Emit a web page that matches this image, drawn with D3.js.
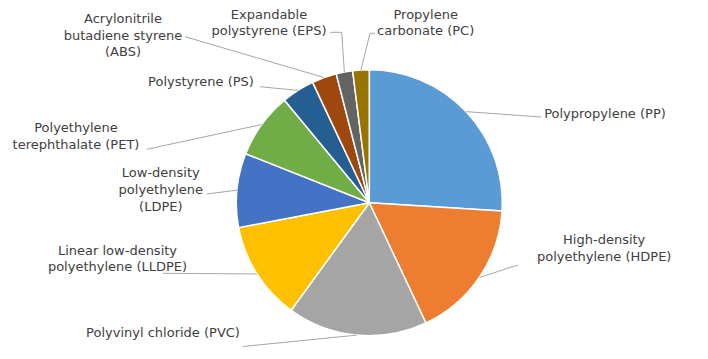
<!DOCTYPE html>
<html>
<head>
<meta charset="utf-8">
<script src="https://cdn.jsdelivr.net/npm/d3@7/dist/d3.min.js"></script>
<style>
html,body{margin:0;padding:0;background:#fff;}
svg{display:block;}
</style>
</head>
<body>
<svg id="chart" width="708" height="359"></svg>
<script>
// ---- data ----
const categories = [
  "Polypropylene (PP)",
  "High-density polyethylene (HDPE)",
  "Polyvinyl chloride (PVC)",
  "Linear low-density polyethylene (LLDPE)",
  "Low-density polyethylene (LDPE)",
  "Polyethylene terephthalate (PET)",
  "Polystyrene (PS)",
  "Acrylonitrile butadiene styrene (ABS)",
  "Expandable polystyrene (EPS)",
  "Propylene carbonate (PC)"
];
const values = [26, 17, 17, 12, 9, 8, 4, 3, 2, 2];
const labelLines = [
  ["Polypropylene (PP)"],
  ["High-density", "polyethylene (HDPE)"],
  ["Polyvinyl chloride (PVC)"],
  ["Linear low-density", "polyethylene (LLDPE)"],
  ["Low-density", "polyethylene", "(LDPE)"],
  ["Polyethylene", "terephthalate (PET)"],
  ["Polystyrene (PS)"],
  ["Acrylonitrile", "butadiene styrene", "(ABS)"],
  ["Expandable", "polystyrene (EPS)"],
  ["Propylene", "carbonate (PC)"]
];

// ---- styles / layout ----
const colors = ["#5B9BD5","#ED7D31","#A5A5A5","#FFC000","#4472C4","#70AD47","#255E91","#9E480E","#636363","#997300"];
const cx = 369.3, cy = 202.7, R = 133;
const lineH = 16.7;
// label centre x, first line centre y, leader end points (beyond the pie edge)
const labelLayout = [
  {x: 605,   y: 113.3, leader: [[541, 117]]},
  {x: 604.2, y: 239.3, leader: [[518, 265]]},
  {x: 163,   y: 332.3, leader: [[243, 346.5]]},
  {x: 117.5, y: 250,   leader: [[163, 273.3]]},
  {x: 160.8, y: 172.7, leader: [[206.7, 194]]},
  {x: 76,    y: 127.7, leader: [[146.7, 149.3]]},
  {x: 201,   y: 81.7,  leader: [[260, 86.7]]},
  {x: 123,   y: 18.3,  leader: [[185, 36.7]]},
  {x: 269,   y: 14,    leader: [[341.7, 32.3],[330, 32.3]]},
  {x: 425.7, y: 14,    leader: [[370, 33.3],[375, 33.3]]}
];

const svg = d3.select("#chart");
const g = svg.append("g").attr("transform", `translate(${cx},${cy})`);

const pie = d3.pie().sort(null).value(d => d).startAngle(0).endAngle(2*Math.PI);
const arcs = pie(values);
const arc = d3.arc().innerRadius(0).outerRadius(R);

g.selectAll("path.slice").data(arcs).join("path")
  .attr("class","slice")
  .attr("d", arc)
  .attr("fill", (d,i) => colors[i])
  .attr("stroke", "#fff")
  .attr("stroke-width", 1.5)
  .attr("stroke-linejoin","round");

// leader lines
const line = d3.line();
arcs.forEach((d,i) => {
  const a = (d.startAngle + d.endAngle)/2;
  const p0 = [cx + R*Math.sin(a), cy - R*Math.cos(a)];
  const pts = [p0].concat(labelLayout[i].leader);
  svg.append("path")
    .attr("d", line(pts))
    .attr("fill","none")
    .attr("stroke","#A6A6A6")
    .attr("stroke-width",1);
});

// labels
labelLines.forEach((lines,i) => {
  const L = labelLayout[i];
  const t = svg.append("text")
    .attr("text-anchor","middle")
    .attr("font-family","'DejaVu Sans', Verdana, sans-serif")
    .attr("font-size","13px")
    .attr("fill","#404040");
  lines.forEach((s,k) => {
    t.append("tspan").attr("x", L.x).attr("y", L.y + k*lineH).attr("dy","0.35em").text(s);
  });
});
</script>
</body>
</html>
